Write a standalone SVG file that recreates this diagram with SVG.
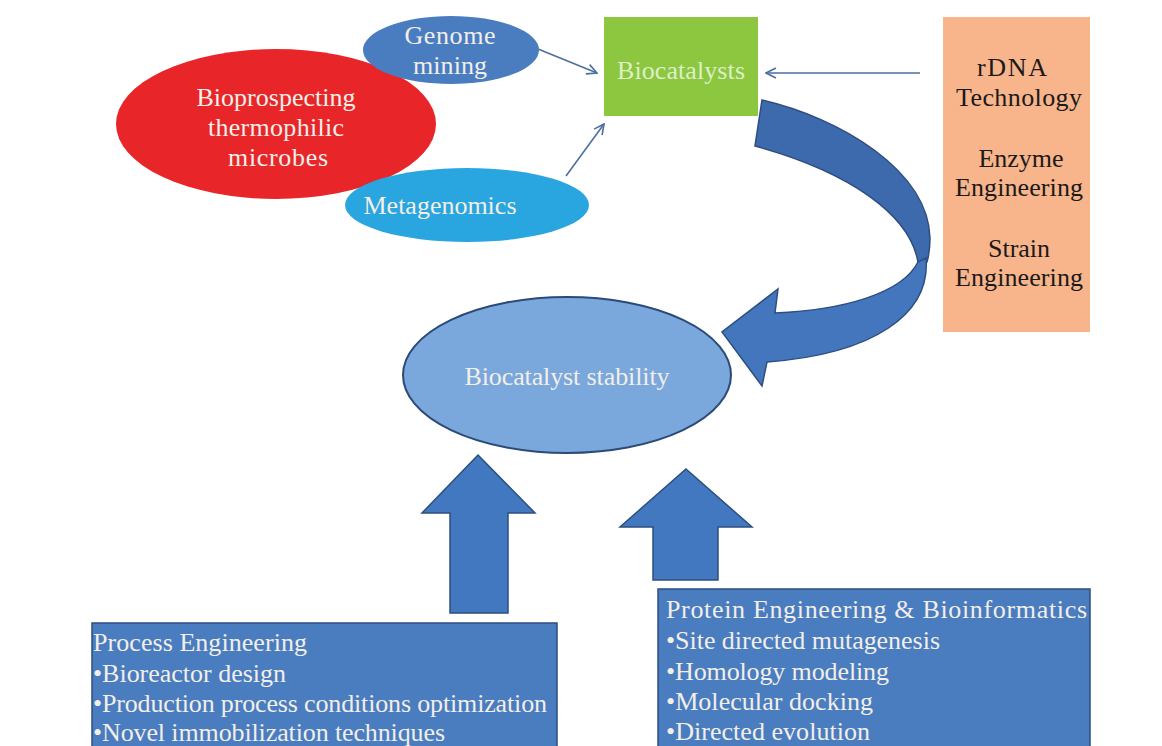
<svg xmlns="http://www.w3.org/2000/svg" width="1162" height="746" viewBox="0 0 1162 746">
<style>
.t{font-family:"Liberation Serif","Times New Roman",serif;font-size:26px;}
.lt{fill:#f2eee8;}
.dk{fill:#1a1a1a;}
.thin{stroke:#4d6f9f;stroke-width:1.6;fill:none;marker-end:url(#oa);}
.blk{fill:#4178c0;stroke:#2c4f80;stroke-width:1.5;}
</style>
<defs>
<marker id="oa" viewBox="0 0 12 12" refX="11" refY="6" markerWidth="12" markerHeight="12" markerUnits="userSpaceOnUse" orient="auto">
<path d="M1,1 L11,6 L1,11" fill="none" stroke="#4d6f9f" stroke-width="1.6"/>
</marker>
</defs>
<rect width="1162" height="746" fill="#ffffff"/>

<g id="connectors">
<line class="thin" x1="538" y1="49" x2="597" y2="73"/>
<line class="thin" x1="566" y1="176" x2="604" y2="124"/>
<line class="thin" x1="920" y1="73" x2="766" y2="73"/>
<g id="curved-arrow">
<path d="M762,100 C840,118 928,170 930,238 C930,248 929,255 927,262 L918,262 C910,215 850,172 755,146 Z" fill="#3d69ad" stroke="#2c4f80" stroke-width="1.5"/>
<path d="M926,258 C931,314 874,354 767,362 L762,386 L722,332 L778,289 L775,313 C842,310 902,294 918,262 Z" fill="#4476bd" stroke="#2c4f80" stroke-width="1.5"/>
</g>
<path id="up-arrow-left" class="blk" d="M478,455 L535,513 L508,513 L508,613 L450,613 L450,513 L422,513 Z"/>
<path id="up-arrow-right" class="blk" d="M686,469 L752,527 L718,527 L718,580 L653,580 L653,527 L620,527 Z"/>
</g>

<g id="node-bioprospecting">
<ellipse cx="276" cy="124" rx="160" ry="75" fill="#e8262a"/>
<text class="t lt" text-anchor="middle" x="276" y="106" textLength="159">Bioprospecting</text>
<text class="t lt" text-anchor="middle" x="276" y="136" textLength="136">thermophilic</text>
<text class="t lt" text-anchor="middle" x="278" y="166" textLength="100">microbes</text>
</g>

<g id="node-genome">
<ellipse cx="451" cy="50" rx="88" ry="34" fill="#4a7cc0"/>
<text class="t lt" text-anchor="middle" x="450" y="44" textLength="91">Genome</text>
<text class="t lt" text-anchor="middle" x="450" y="74" textLength="74">mining</text>
</g>

<g id="node-metagenomics">
<ellipse cx="467" cy="205" rx="122" ry="37" fill="#29a6df"/>
<text class="t lt" text-anchor="middle" x="440" y="214" textLength="153">Metagenomics</text>
</g>

<g id="node-biocatalysts">
<rect x="604" y="17" width="154" height="99" fill="#8dc63f"/>
<text class="t" fill="#dcefc8" text-anchor="middle" x="681" y="79" textLength="128">Biocatalysts</text>
</g>

<g id="node-rdna">
<rect x="943" y="17" width="147" height="315" fill="#f8b48a"/>
<text class="t dk" text-anchor="middle" x="1012" y="76" textLength="70">rDNA</text>
<text class="t dk" text-anchor="middle" x="1019" y="106" textLength="126">Technology</text>
<text class="t dk" text-anchor="middle" x="1021" y="167">Enzyme</text>
<text class="t dk" text-anchor="middle" x="1019" y="196" textLength="128">Engineering</text>
<text class="t dk" text-anchor="middle" x="1019" y="257" textLength="62">Strain</text>
<text class="t dk" text-anchor="middle" x="1019" y="286" textLength="128">Engineering</text>
</g>

<g id="node-stability">
<ellipse cx="567" cy="375" rx="164" ry="78" fill="#7aa7dc" stroke="#2b4a78" stroke-width="2"/>
<text class="t lt" text-anchor="middle" x="567" y="385" textLength="205">Biocatalyst stability</text>
</g>

<g id="node-process">
<rect x="92" y="623" width="465" height="130" fill="#4a7cc0" stroke="#2c4f80" stroke-width="1.5"/>
<text class="t lt" x="93" y="651" textLength="214">Process Engineering</text>
<text class="t lt" x="93" y="682" textLength="193">•Bioreactor design</text>
<text class="t lt" x="93" y="712" textLength="454">•Production process conditions optimization</text>
<text class="t lt" x="93" y="741" textLength="352">•Novel immobilization techniques</text>
</g>

<g id="node-protein">
<rect x="658" y="589" width="432" height="165" fill="#4a7cc0" stroke="#2c4f80" stroke-width="1.5"/>
<text class="t lt" x="666" y="618" textLength="421">Protein Engineering &amp; Bioinformatics</text>
<text class="t lt" x="666" y="649" textLength="274">•Site directed mutagenesis</text>
<text class="t lt" x="666" y="680" textLength="223">•Homology modeling</text>
<text class="t lt" x="666" y="710" textLength="207">•Molecular docking</text>
<text class="t lt" x="666" y="740" textLength="204">•Directed evolution</text>
</g>
</svg>
